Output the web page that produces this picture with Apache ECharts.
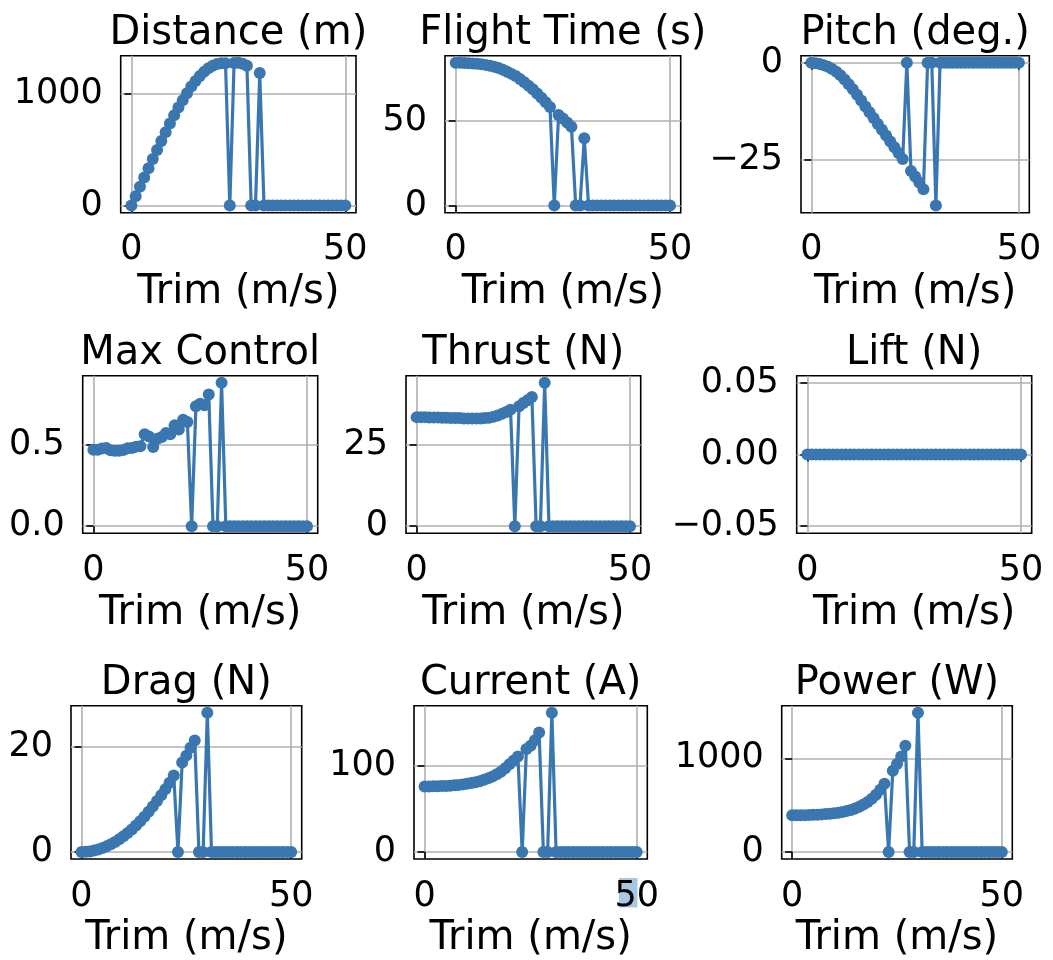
<!DOCTYPE html>
<html><head><meta charset="utf-8">
<script src="https://cdn.jsdelivr.net/npm/echarts@6/dist/echarts.min.js"></script>
<style>html,body{margin:0;padding:0;background:#fff}#c{width:1053px;height:960px}</style>
</head><body><div id="c"></div>
<script>
const trim = [0,1,2,3,4,5,6,7,8,9,10,11,12,13,14,15,16,17,18,19,20,21,22,23,24,25,26,27,28,29,30,31,32,33,34,35,36,37,38,39,40,41,42,43,44,45,46,47,48,49,50];
const xTicks = [0, 50];
const xTickLabels = ['0', '50'];

const distance = [0,84,168,251,334,417,499,580,658,735,810,879,944,1008,1067,1118,1162,1199,1231,1254,1270,1277,1276,0,1279,1280,1271,1253,0,0,1188,0,0,0,0,0,0,0,0,0,0,0,0,0,0,0,0,0,0,0,0];
const flightTime = [84.0,84.0,83.9,83.8,83.6,83.4,83.1,82.8,82.3,81.7,81.0,79.9,78.7,77.5,76.2,74.5,72.6,70.5,68.4,66.0,63.5,60.8,58.0,0,53.3,51.2,48.9,46.4,0,0,39.6,0,0,0,0,0,0,0,0,0,0,0,0,0,0,0,0,0,0,0,0];
const pitch = [0,-0.1,-0.3,-0.6,-1.0,-1.6,-2.3,-3.2,-4.3,-5.5,-6.8,-8.2,-9.7,-11.2,-12.7,-14.2,-15.7,-17.2,-18.7,-20.2,-21.7,-23.2,-24.7,0,-27.8,-29.2,-30.8,-32.5,0,0,-36.7,0,0,0,0,0,0,0,0,0,0,0,0,0,0,0,0,0,0,0,0];
const maxControl = [0.471,0.471,0.478,0.482,0.467,0.464,0.464,0.469,0.480,0.482,0.490,0.492,0.566,0.552,0.488,0.539,0.549,0.574,0.566,0.621,0.595,0.656,0.642,0,0.739,0.755,0.745,0.811,0,0,0.883,0,0,0,0,0,0,0,0,0,0,0,0,0,0,0,0,0,0,0,0];
const thrust = [33.4,33.4,33.4,33.3,33.3,33.3,33.2,33.2,33.1,33.1,33.1,33.0,33.0,33.0,33.0,33.0,33.1,33.2,33.5,33.9,34.4,35.0,35.7,0,36.7,37.7,38.6,39.6,0,0,43.9,0,0,0,0,0,0,0,0,0,0,0,0,0,0,0,0,0,0,0,0];
const lift = [0,0,0,0,0,0,0,0,0,0,0,0,0,0,0,0,0,0,0,0,0,0,0,0,0,0,0,0,0,0,0,0,0,0,0,0,0,0,0,0,0,0,0,0,0,0,0,0,0,0,0];
const drag = [0,0.03,0.12,0.27,0.48,0.75,1.08,1.47,1.92,2.43,3.0,3.63,4.32,5.07,5.88,6.75,7.68,8.67,9.72,10.83,12.0,13.23,14.6,0,17.1,18.4,19.9,21.3,0,0,26.6,0,0,0,0,0,0,0,0,0,0,0,0,0,0,0,0,0,0,0,0];
const current = [75.9,75.9,76.0,76.1,76.3,76.5,76.8,77.2,77.7,78.3,79.0,79.8,80.8,82.0,83.6,85.3,87.5,90.0,93.0,97.0,101.5,106.0,110.7,0,119.2,123.0,129.5,138.3,0,0,161.3,0,0,0,0,0,0,0,0,0,0,0,0,0,0,0,0,0,0,0,0];
const power = [392,392,393,394,395,397,399,402,405,409,414,420,428,438,450,465,484,507,535,570,612,664,728,0,869,940,1021,1134,0,0,1488,0,0,0,0,0,0,0,0,0,0,0,0,0,0,0,0,0,0,0,0];

const titles = ['Distance (m)','Flight Time (s)','Pitch (deg.)','Max Control','Thrust (N)','Lift (N)','Drag (N)','Current (A)','Power (W)'];
const seriesValues = [distance, flightTime, pitch, maxControl, thrust, lift, drag, current, power];
const yTicks = [[0,1000],[0,50],[-25,0],[0,0.5],[0,25],[-0.05,0,0.05],[0,20],[0,100],[0,1000]];
const yTickLabels = [['0','1000'],['0','50'],['\u221225','0'],['0.0','0.5'],['0','25'],['\u22120.05','0.00','0.05'],['0','20'],['0','100'],['0','1000']];
const xLabel = 'Trim (m/s)';

// layout: [left, top, right, bottom] of each axes box in px
const boxes = [
  [120.7,55.7,356,212.7],[445,55.7,680.7,212.7],[801,55.7,1029.3,212.7],
  [82.7,375.7,317.7,533.3],[406,375.7,640.7,533.3],[796.7,375.7,1031.7,533.3],
  [71,705.7,301.7,861.7],[414,705.7,647.3,861.7],[781.7,705.7,1012.3,861.7]
];
const FONT = 'DejaVu Sans';
const COLOR = '#3a77b0';

const grids = [], xAxes = [], yAxes = [], series = [], graphics = [];
seriesValues.forEach((vals, k) => {
  const b = boxes[k];
  grids.push({left: b[0], top: b[1], width: b[2]-b[0], height: b[3]-b[1], show: true,
    borderColor: '#000', borderWidth: 1.6, backgroundColor: 'transparent', containLabel: false});
  let lo = Math.min(...vals), hi = Math.max(...vals);
  let ymin, ymax;
  if (hi === lo) { ymin = lo - 0.055; ymax = hi + 0.055; }
  else { const m = 0.05*(hi-lo); ymin = lo - m; ymax = hi + m; }
  const labelsX = xTickLabels, labelsY = yTickLabels[k], ticksY = yTicks[k];
  xAxes.push({type: 'value', gridIndex: k, min: -2.5, max: 52.5,
    name: xLabel, nameLocation: 'middle', nameGap: 60,
    nameTextStyle: {fontFamily: FONT, fontSize: 40, color: '#000'},
    axisLine: {show: false},
    axisTick: {show: true, customValues: xTicks, length: 7, lineStyle: {color: '#000', width: 1.6}},
    axisLabel: {show: true, customValues: xTicks, margin: 20, fontFamily: FONT, fontSize: 35, color: '#000',
      formatter: v => labelsX[xTicks.indexOf(v)] ?? ''},
    splitLine: {show: true, lineStyle: {color: '#b0b0b0', width: 1.6}}
  });
  yAxes.push({type: 'value', gridIndex: k, min: ymin, max: ymax,
    axisLine: {show: false},
    axisTick: {show: true, customValues: ticksY, length: 7, lineStyle: {color: '#000', width: 1.6}},
    axisLabel: {show: true, customValues: ticksY, margin: 18, fontFamily: FONT, fontSize: 35, color: '#000',
      formatter: v => { const i = ticksY.findIndex(t => Math.abs(t - v) < 1e-9); return i >= 0 ? labelsY[i] : ''; }},
    splitLine: {show: true, lineStyle: {color: '#b0b0b0', width: 1.6}}
  });
  series.push({type: 'line', xAxisIndex: k, yAxisIndex: k,
    data: trim.map((x, i) => [x, vals[i]]),
    symbol: 'circle', symbolSize: 12, showSymbol: true,
    lineStyle: {color: COLOR, width: 3.2}, itemStyle: {color: COLOR},
    emphasis: {disabled: true}, animation: false, z: 3});
  graphics.push({type: 'text', x: (b[0]+b[2])/2, y: b[1]-42,
    style: {text: titles[k], fontFamily: FONT, fontSize: 40, fill: '#000', textAlign: 'center', textVerticalAlign: 'top'}});
});
// selection highlight behind the "5" of the Current panel's "50"
graphics.push({type: 'rect', z: -10, shape: {x: 619, y: 878, width: 18.5, height: 29.5}, style: {fill: '#a8c8e2'}});

const chart = echarts.init(document.getElementById('c'), null, {renderer: 'canvas'});
chart.setOption({
  animation: false,
  backgroundColor: '#fff',
  grid: grids, xAxis: xAxes, yAxis: yAxes, series: series,
  graphic: {elements: graphics}
});
</script></body></html>
